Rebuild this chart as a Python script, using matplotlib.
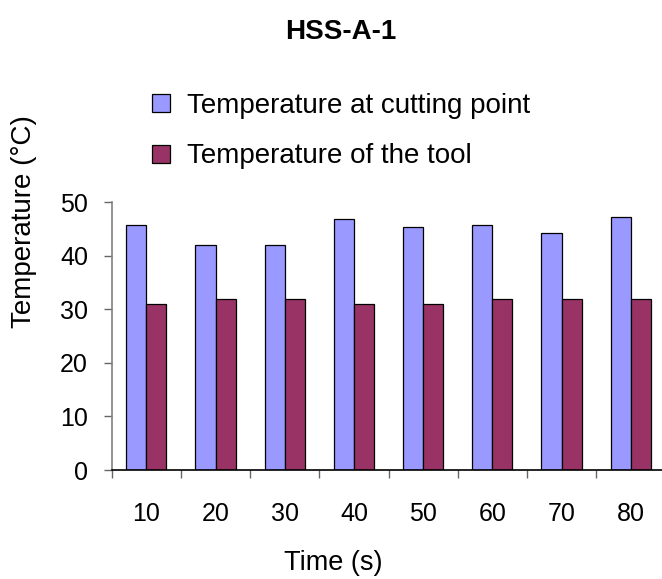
import matplotlib
matplotlib.use("Agg")
import matplotlib.pyplot as plt
import numpy as np

# cutting test HSS-A-1, temperatures per time step
times = ["10", "20", "30", "40", "50", "60", "70", "80"]
temp_cutting_point = [45.8, 42.0, 42.0, 46.8, 45.3, 45.8, 44.3, 47.2]
temp_tool = [31, 32, 32, 31, 31, 32, 32, 32]

plt.rcParams['font.family'] = ['Liberation Sans', 'DejaVu Sans']

W, H = 662, 579
fig = plt.figure(figsize=(W / 100, H / 100), dpi=100)
ax = fig.add_axes([111.7 / W, 1 - 470 / H, 553.6 / W, 267.7 / H])

x = np.arange(len(times))
w = 0.29
ax.bar(x - w / 2, temp_cutting_point, w, color="#9999FF", edgecolor="black", linewidth=0.9,
       label="Temperature at cutting point")
ax.bar(x + w / 2, temp_tool, w, color="#993366", edgecolor="black", linewidth=0.9,
       label="Temperature of the tool")

ax.set_xlim(-0.5, len(times) - 0.5)
ax.set_ylim(0, 50)
ax.set_yticks([0, 10, 20, 30, 40, 50])
ax.tick_params(axis="y", labelsize=18, length=6, width=1, direction="out", color="#666666", pad=11)

# ticks on the category boundaries, labels in the middle
ax.set_xticks(np.arange(len(times) + 1) - 0.5)
ax.set_xticklabels([])
ax.set_xticks(x, minor=True)
ax.set_xticklabels(times, minor=True)
ax.tick_params(axis="x", which="major", length=6, width=1, direction="out", color="#666666")
ax.tick_params(axis="x", which="minor", length=0, labelsize=18, pad=23)

for s in ["top", "right"]:
    ax.spines[s].set_visible(False)
ax.spines["left"].set_color("#808080")
ax.spines["left"].set_linewidth(1.2)
ax.spines["bottom"].set_color("black")
ax.spines["bottom"].set_linewidth(1.2)

fig.text(341 / W, 1 - 32 / H, "HSS-A-1", ha="center", va="center", fontsize=20, fontweight="bold")
fig.text(333 / W, 1 - 563 / H, "Time (s)", ha="center", va="center", fontsize=19.5)
fig.text(24 / W, 1 - 222 / H, "Temperature (\u00b0C)", ha="center", va="center",
         rotation=90, fontsize=20)

fig.legend(loc="upper left", bbox_to_anchor=(152 / W, 1 - 93 / H), frameon=False,
           fontsize=20, handlelength=0.65, handleheight=0.62, handletextpad=0.6,
           labelspacing=0.88, borderaxespad=0, borderpad=0)

fig.savefig("out.png", dpi=100)
